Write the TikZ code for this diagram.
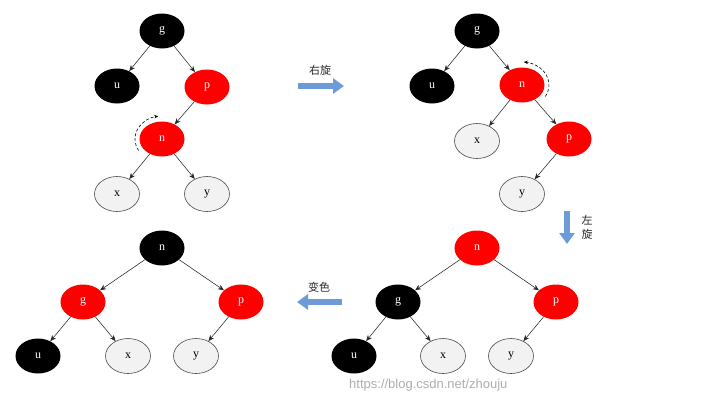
\documentclass[tikz,border=0pt]{standalone}
\usepackage{fontspec}
\setmainfont{Liberation Serif}
\newfontfamily\cjk{Noto Sans CJK SC}
\newfontfamily\wmfont{Liberation Sans}
\usetikzlibrary{arrows.meta,shapes.geometric}
\definecolor{rbred}{HTML}{FF0000}
\definecolor{leaffill}{HTML}{F2F2F2}
\definecolor{flowblue}{HTML}{6C9BD8}
\begin{document}
\begin{tikzpicture}[x=1pt,y=-1pt,
  rbnode/.style={ellipse, minimum width=45pt, minimum height=35pt, inner sep=0pt, font=\fontsize{12}{14}\selectfont},
  blacknode/.style={rbnode, fill=black, text=white},
  rednode/.style={rbnode, fill=rbred, text=white},
  leafnode/.style={rbnode, fill=leaffill, draw=black!70, line width=0.6pt, text=black},
  edge/.style={-{Stealth[length=6pt,width=5pt]}, draw=black!85, line width=0.55pt},
  rot/.style={densely dashed, -{Stealth[length=4pt,width=3.5pt]}, line width=0.6pt},
  bigarrow/.style={line width=6.5pt, draw=flowblue, -{Triangle[length=11pt,width=15pt]}},
  lbl/.style={font=\cjk\fontsize{11}{13}\selectfont, text=black!85, inner sep=0pt},
]
\fill[white] (0,0) rectangle (722,400);
\useasboundingbox (0,0) rectangle (722,400);

% ---------- tree 1 (top left)
\node[blacknode] (g1) at (162,31) {g};
\node[blacknode] (u1) at (117,86) {u};
\node[rednode]   (p1) at (207,87) {p};
\node[rednode]   (n1) at (162,139) {n};
\node[leafnode]  (x1) at (117,194) {x};
\node[leafnode]  (y1) at (207,194) {y};
\draw[edge] (g1) -- (u1);
\draw[edge] (g1) -- (p1);
\draw[edge] (p1) -- (n1);
\draw[edge] (n1) -- (x1);
\draw[edge] (n1) -- (y1);
\draw[rot] ([shift={(150:27 and 23)}]n1.center) arc[start angle=150, end angle=262, x radius=27, y radius=23];

% arrow right rotation
\coordinate (a1s) at (298,86);
\coordinate (a1e) at (344,86);
\draw[bigarrow] (a1s) -- (a1e);
\node[lbl] (t1) at (320,70) {右旋};

% ---------- tree 2 (top right)
\node[blacknode] (g2) at (477,31) {g};
\node[blacknode] (u2) at (432,86) {u};
\node[rednode]   (n2) at (522,85) {n};
\node[leafnode]  (x2) at (477,141) {x};
\node[rednode]   (p2) at (569,139) {p};
\node[leafnode]  (y2) at (522,194) {y};
\draw[edge] (g2) -- (u2);
\draw[edge] (g2) -- (n2);
\draw[edge] (n2) -- (x2);
\draw[edge] (n2) -- (p2);
\draw[edge] (p2) -- (y2);
\draw[rot] ([shift={(30:27 and 23)}]n2.center) arc[start angle=30, end angle=-86, x radius=27, y radius=23];

% arrow left rotation (down)
\coordinate (a2s) at (567,211);
\coordinate (a2e) at (567,244);
\draw[bigarrow] (a2s) -- (a2e);
\node[lbl] (t2a) at (587,220) {左};
\node[lbl] (t2b) at (587,234) {旋};

% ---------- tree 3 (bottom right)
\node[rednode]   (n3) at (477,248) {n};
\node[blacknode] (g3) at (398,302) {g};
\node[rednode]   (p3) at (556,302) {p};
\node[blacknode] (u3) at (354,356) {u};
\node[leafnode]  (x3) at (443,356) {x};
\node[leafnode]  (y3) at (511,356) {y};
\draw[edge] (n3) -- (g3);
\draw[edge] (n3) -- (p3);
\draw[edge] (g3) -- (u3);
\draw[edge] (g3) -- (x3);
\draw[edge] (p3) -- (y3);

% arrow recolor (left)
\coordinate (a3s) at (342,302);
\coordinate (a3e) at (297,302);
\draw[bigarrow] (a3s) -- (a3e);
\node[lbl] (t3) at (319,287) {变色};

% ---------- tree 4 (bottom left)
\node[blacknode] (n4) at (162,248) {n};
\node[rednode]   (g4) at (83,302) {g};
\node[rednode]   (p4) at (241,302) {p};
\node[blacknode] (u4) at (38,356) {u};
\node[leafnode]  (x4) at (128,356) {x};
\node[leafnode]  (y4) at (196,356) {y};
\draw[edge] (n4) -- (g4);
\draw[edge] (n4) -- (p4);
\draw[edge] (g4) -- (u4);
\draw[edge] (g4) -- (x4);
\draw[edge] (p4) -- (y4);

% watermark
\node[anchor=west, inner sep=0pt, text=black!40, opacity=0.8, font=\wmfont\fontsize{13}{15}\selectfont] (wm) at (349,385) {https://blog.csdn.net/zhouju};
\end{tikzpicture}
\end{document}
